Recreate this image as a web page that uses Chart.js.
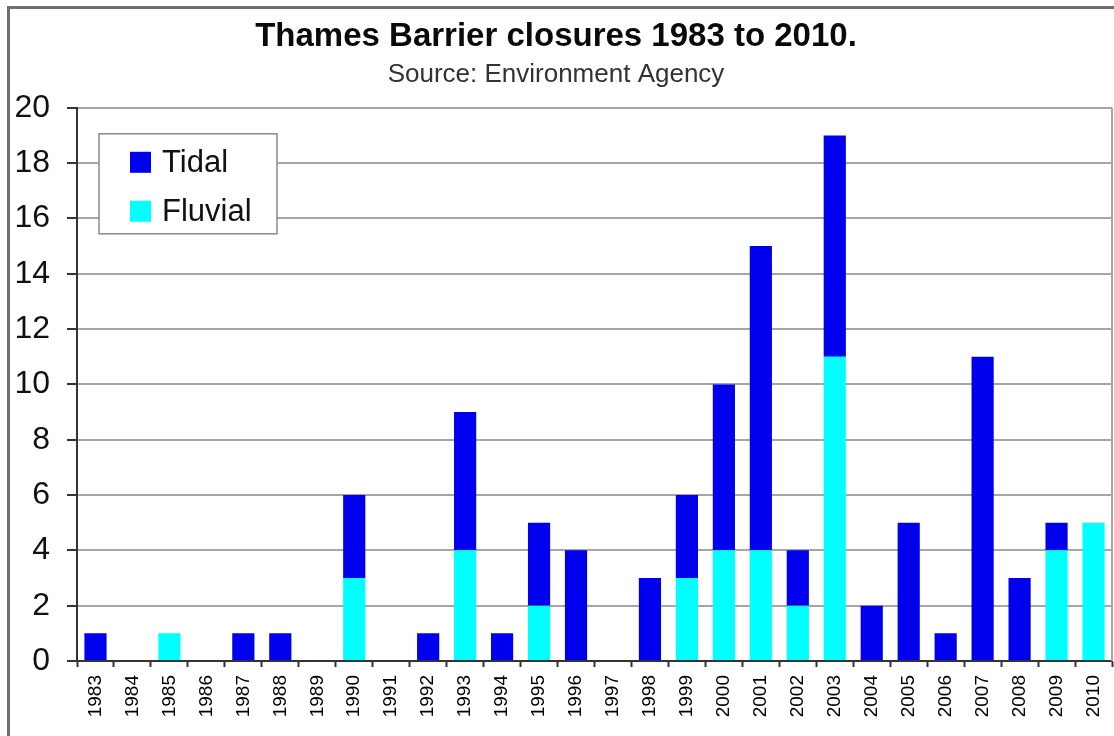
<!DOCTYPE html>
<html>
<head>
<meta charset="utf-8">
<script src="https://cdn.jsdelivr.net/npm/chart.js@4/dist/chart.umd.min.js"></script>
<style>
  html, body { margin: 0; padding: 0; background: #fff; overflow: hidden; }
  #wrap { position: relative; width: 1114px; height: 736px; }
  #frame { position: absolute; left: 7px; top: 6px; width: 1200px; height: 800px; border: 3px solid #6f6f6f; }
  #chart { position: absolute; left: 0; top: 0; }
</style>
</head>
<body>
<div id="wrap">
  <div id="frame"></div>
  <canvas id="chart" width="1114" height="736"></canvas>
</div>
<script>
// closures per year, split by cause
const years = ['1983','1984','1985','1986','1987','1988','1989','1990','1991','1992',
               '1993','1994','1995','1996','1997','1998','1999','2000','2001','2002',
               '2003','2004','2005','2006','2007','2008','2009','2010'];
const tidal   = [1,0,0,0,1,1,0,3,0,1, 5,1,3,4,0,3,3,6,11,2, 8,2,5,1,11,3,1,0];
const fluvial = [0,0,1,0,0,0,0,3,0,0, 4,0,2,0,0,0,3,4,4,2, 11,0,0,0,0,0,4,5];

const TIDAL_COL = '#0000ee';
const FLUVIAL_COL = '#00ffff';
const FONT = "'Liberation Sans', Arial, sans-serif";

// legend drawn as a boxed panel inside the plot
const boxLegend = {
    id: 'boxLegend',
    beforeDatasetsDraw(chart) {
        // right edge of the plot frame
        const a = chart.chartArea;
        const ctx = chart.ctx;
        ctx.save();
        ctx.strokeStyle = '#a6a6a6';
        ctx.lineWidth = 2;
        ctx.beginPath();
        ctx.moveTo(a.right, a.top);
        ctx.lineTo(a.right, a.bottom);
        ctx.stroke();
        ctx.restore();
    },
    afterDatasetsDraw(chart) {
        const a = chart.chartArea;
        const ctx = chart.ctx;
        const x = a.left + 22, y = a.top + 26;
        ctx.save();
        ctx.fillStyle = '#fff';
        ctx.fillRect(x, y, 178, 100);
        ctx.strokeStyle = '#8a8a8a';
        ctx.lineWidth = 1.5;
        ctx.strokeRect(x, y, 178, 100);
        const items = [['Tidal', TIDAL_COL], ['Fluvial', FLUVIAL_COL]];
        ctx.font = '31px ' + FONT;
        ctx.textBaseline = 'middle';
        items.forEach((it, i) => {
            const cy = y + 28 + i * 49;
            ctx.fillStyle = it[1];
            ctx.fillRect(x + 31, cy - 10, 21, 21);
            ctx.fillStyle = '#111';
            ctx.fillText(it[0], x + 63, cy + 2);
        });
        ctx.restore();
    }
};

new Chart(document.getElementById('chart'), {
    type: 'bar',
    data: {
        labels: years,
        datasets: [
            { label: 'Fluvial', data: fluvial, backgroundColor: FLUVIAL_COL, borderWidth: 0,
              categoryPercentage: 1, barPercentage: 0.6 },
            { label: 'Tidal', data: tidal, backgroundColor: TIDAL_COL, borderWidth: 0,
              categoryPercentage: 1, barPercentage: 0.6 }
        ]
    },
    options: {
        responsive: false,
        animation: false,
        layout: { padding: { left: 0, right: 2, top: 0, bottom: 0 } },
        plugins: {
            legend: { display: false },
            tooltip: { enabled: false },
            title: {
                display: true,
                text: 'Thames Barrier closures 1983 to 2010.',
                color: '#0a0a0a',
                font: { family: FONT, size: 33, weight: 'bold' },
                padding: { top: 17, bottom: 3 }
            },
            subtitle: {
                display: true,
                text: 'Source: Environment Agency',
                color: '#333',
                font: { family: FONT, size: 26 },
                padding: { top: 0, bottom: 17 }
            }
        },
        scales: {
            x: {
                stacked: true,
                grid: { offset: true, drawOnChartArea: false, drawTicks: true, tickLength: 6,
                        tickColor: '#333', tickWidth: 2 },
                border: { color: '#333', width: 2 },
                ticks: { color: '#000', font: { family: FONT, size: 19 }, minRotation: 90,
                         maxRotation: 90, autoSkip: false, padding: 8 },
                afterFit(scale) {
                    scale.height = 75;
                    scale.paddingLeft = 0;
                    scale.paddingRight = 0;
                }
            },
            y: {
                stacked: true,
                min: 0,
                max: 20,
                ticks: { stepSize: 2, color: '#111', font: { family: FONT, size: 32 }, padding: 17 },
                grid: { color: '#a6a6a6', lineWidth: 2, tickColor: '#333', tickLength: 10 },
                border: { color: '#333', width: 2 },
                afterFit(scale) { scale.width = 77; }
            }
        }
    },
    plugins: [boxLegend]
});
</script>
</body>
</html>
